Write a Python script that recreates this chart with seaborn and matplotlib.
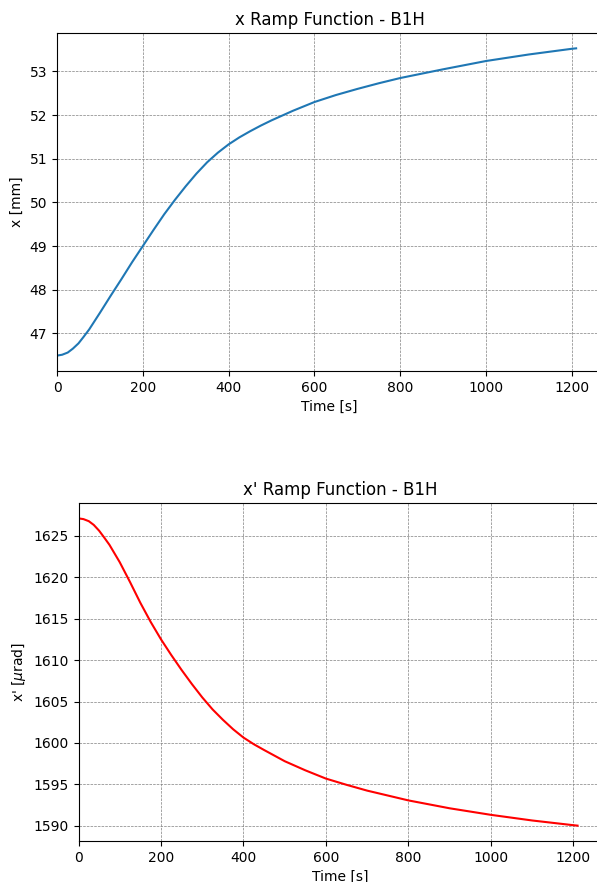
import numpy as np
import pandas as pd
import matplotlib
matplotlib.use("Agg")
import matplotlib.pyplot as plt
import seaborn as sns


# Data (time in s)
time_x = [0, 12, 25, 37, 50, 62, 75, 100, 125, 150, 175, 200, 225, 250, 275,
          300, 325, 350, 375, 400, 425, 450, 475, 500, 550, 600, 650, 700,
          750, 800, 900, 1000, 1100, 1200, 1210]
x_mm = [46.49, 46.51, 46.56, 46.65, 46.77, 46.92, 47.09, 47.47, 47.86, 48.24,
        48.63, 49.0, 49.37, 49.73, 50.06, 50.37, 50.66, 50.92, 51.14, 51.33,
        51.49, 51.63, 51.76, 51.88, 52.10, 52.30, 52.46, 52.60, 52.73, 52.85,
        53.05, 53.24, 53.39, 53.52, 53.53]

time_xp = [0, 12, 25, 37, 50, 62, 75, 100, 125, 150, 175, 200, 225, 250, 275,
           300, 325, 350, 375, 400, 425, 450, 500, 550, 600, 650, 700, 800,
           900, 1000, 1100, 1200, 1210]
xp_urad = [1627.09, 1627.0, 1626.75, 1626.3, 1625.6, 1624.8, 1623.9, 1621.8,
           1619.4, 1616.9, 1614.6, 1612.5, 1610.6, 1608.8, 1607.1, 1605.5,
           1604.05, 1602.8, 1601.65, 1600.65, 1599.85, 1599.15, 1597.8,
           1596.7, 1595.7, 1594.95, 1594.25, 1593.07, 1592.12, 1591.33,
           1590.65, 1590.08, 1590.03]

df_x = pd.DataFrame({"t": time_x, "v": x_mm})
df_xp = pd.DataFrame({"t": time_xp, "v": xp_urad})


fig = plt.figure(figsize=(5.97, 8.82), dpi=100)

# Top panel: x
ax1 = fig.add_axes([0.0955, 0.5794, 0.913, 0.3832])
sns.lineplot(data=df_x, x="t", y="v", ax=ax1, color="#1f77b4", linewidth=1.5)
ax1.set_xlim(left=0)
ax1.grid(True, linestyle="--", color="gray", linewidth=0.5)
ax1.set_title("x Ramp Function - B1H", fontsize=12)
ax1.set_xlabel("Time [s]")
ax1.set_ylabel("x [mm]")

# Bottom panel: x'
ax2 = fig.add_axes([0.1315, 0.0465, 0.8777, 0.3832])
sns.lineplot(data=df_xp, x="t", y="v", ax=ax2, color="red", linewidth=1.5)
ax2.set_xlim(left=0)
ax2.grid(True, linestyle="--", color="gray", linewidth=0.5)
ax2.set_title("x' Ramp Function - B1H", fontsize=12)
ax2.set_xlabel("Time [s]")
ax2.set_ylabel(r"x' [$\mu$rad]")

plt.savefig("out.png", dpi=100)
